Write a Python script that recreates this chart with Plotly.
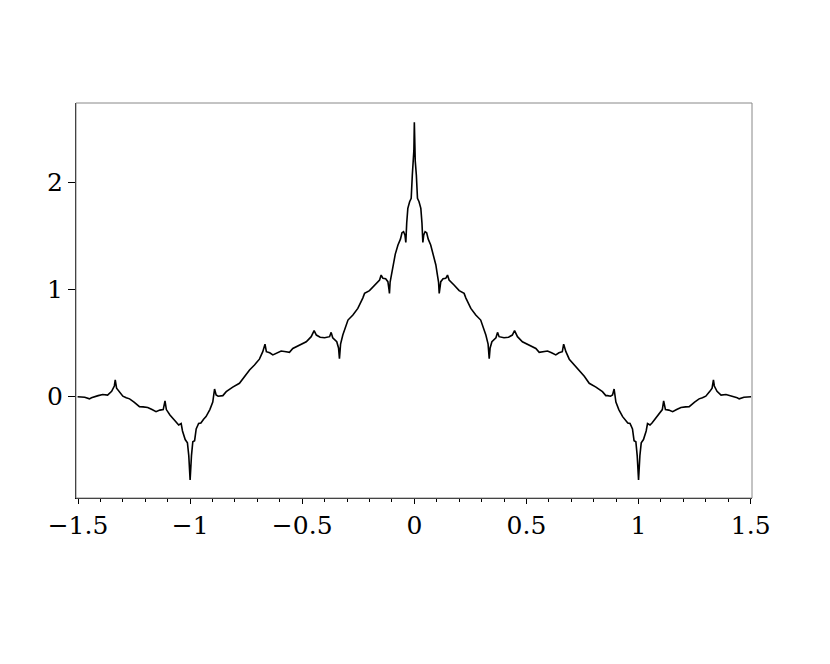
import plotly.graph_objects as go

# curve (x, y)
x_vals = [
    -1.502, -1.47, -1.449, -1.44, -1.41, -1.39, -1.368, -1.35, -1.338, -1.334,
    -1.328, -1.318, -1.30, -1.285, -1.27, -1.25, -1.226, -1.21, -1.189, -1.17,
    -1.152, -1.135, -1.12, -1.112, -1.106, -1.09, -1.078, -1.06, -1.051, -1.04,
    -1.034, -1.022, -1.012, -1.006, -1.0, -0.994, -0.988, -0.98, -0.973, -0.962,
    -0.952, -0.94, -0.929, -0.912, -0.899, -0.891, -0.884, -0.875, -0.862, -0.854,
    -0.839, -0.81, -0.78, -0.758, -0.735, -0.713, -0.691, -0.676, -0.666, -0.660,
    -0.645, -0.631, -0.612, -0.594, -0.572, -0.557, -0.542, -0.515, -0.482, -0.46,
    -0.447, -0.437, -0.42, -0.40, -0.378, -0.371, -0.364, -0.346, -0.338, -0.334,
    -0.329, -0.319, -0.296, -0.274, -0.252, -0.23, -0.222, -0.20, -0.177, -0.155,
    -0.148, -0.14, -0.128, -0.118, -0.113, -0.111, -0.108, -0.103, -0.096, -0.085,
    -0.073, -0.062, -0.055, -0.048, -0.042, -0.038, -0.034, -0.029, -0.021, -0.014,
    -0.009, -0.004, -0.002, 0.0,
    0.002, 0.004, 0.009, 0.014, 0.021, 0.029, 0.034, 0.038, 0.042, 0.048,
    0.055, 0.062, 0.073, 0.085, 0.096, 0.103, 0.108, 0.111, 0.113, 0.118,
    0.128, 0.14, 0.148, 0.155, 0.177, 0.20, 0.222, 0.23, 0.252, 0.274,
    0.296, 0.319, 0.329, 0.334, 0.338, 0.346, 0.364, 0.371, 0.378, 0.40,
    0.42, 0.437, 0.447, 0.46, 0.482, 0.515, 0.542, 0.557, 0.572, 0.594,
    0.612, 0.631, 0.645, 0.660, 0.666, 0.676, 0.691, 0.713, 0.735, 0.758,
    0.78, 0.81, 0.839, 0.854, 0.862, 0.875, 0.884, 0.891, 0.899, 0.912,
    0.929, 0.94, 0.952, 0.962, 0.973, 0.98, 0.988, 0.994, 1.0, 1.006,
    1.012, 1.022, 1.034, 1.04, 1.051, 1.06, 1.078, 1.09, 1.106, 1.112,
    1.12, 1.135, 1.152, 1.17, 1.189, 1.21, 1.226, 1.25, 1.27, 1.285,
    1.30, 1.318, 1.328, 1.334, 1.338, 1.35, 1.368, 1.39, 1.41, 1.44,
    1.449, 1.47, 1.502,
]
y_vals = [
    0.0, -0.005, -0.02, -0.01, 0.01, 0.02, 0.015, 0.05, 0.1, 0.156,
    0.08, 0.05, 0.005, -0.01, -0.02, -0.05, -0.093, -0.095, -0.10, -0.12,
    -0.14, -0.125, -0.12, -0.04, -0.12, -0.17, -0.20, -0.245, -0.264, -0.25,
    -0.32, -0.40, -0.43, -0.55, -0.777, -0.55, -0.42, -0.41, -0.30, -0.25,
    -0.245, -0.21, -0.186, -0.12, -0.05, 0.072, 0.016, 0.005, 0.01, 0.01,
    0.047, 0.09, 0.125, 0.19, 0.25, 0.296, 0.35, 0.42, 0.49, 0.42,
    0.41, 0.39, 0.41, 0.426, 0.42, 0.414, 0.45, 0.475, 0.513, 0.56,
    0.616, 0.575, 0.555, 0.55, 0.56, 0.6, 0.55, 0.513, 0.455, 0.355,
    0.49, 0.576, 0.715, 0.762, 0.824, 0.92, 0.964, 0.99, 1.042, 1.089,
    1.135, 1.104, 1.10, 1.073, 1.0, 0.964, 1.07, 1.135, 1.229, 1.33,
    1.415, 1.47, 1.53, 1.54, 1.51, 1.44, 1.62, 1.757, 1.819, 1.85,
    2.068, 2.2, 2.3, 2.56,
    2.3, 2.2, 2.068, 1.85, 1.819, 1.757, 1.62, 1.44, 1.51, 1.54,
    1.53, 1.47, 1.415, 1.33, 1.229, 1.135, 1.07, 0.964, 1.0, 1.073,
    1.10, 1.104, 1.135, 1.089, 1.042, 0.99, 0.964, 0.92, 0.824, 0.762,
    0.715, 0.576, 0.49, 0.355, 0.455, 0.513, 0.55, 0.6, 0.56, 0.55,
    0.555, 0.575, 0.616, 0.56, 0.513, 0.475, 0.45, 0.414, 0.42, 0.426,
    0.41, 0.39, 0.41, 0.42, 0.49, 0.42, 0.35, 0.296, 0.25, 0.19,
    0.125, 0.09, 0.047, 0.01, 0.01, 0.005, 0.016, 0.072, -0.05, -0.12,
    -0.186, -0.21, -0.245, -0.25, -0.30, -0.41, -0.42, -0.55, -0.777, -0.55,
    -0.43, -0.40, -0.32, -0.25, -0.264, -0.245, -0.20, -0.17, -0.12, -0.04,
    -0.12, -0.125, -0.14, -0.12, -0.10, -0.095, -0.093, -0.05, -0.02, -0.01,
    0.005, 0.05, 0.08, 0.156, 0.1, 0.05, 0.015, 0.02, 0.01, -0.01,
    -0.02, -0.005, 0.0,
]

x_tickvals = [-1.5, -1, -0.5, 0, 0.5, 1, 1.5]
x_ticktext = ['\u22121.5', '\u22121', '\u22120.5', '0', '0.5', '1', '1.5']
y_tickvals = [0, 1, 2]
y_ticktext = ['0', '1', '2']

fig = go.Figure()

fig.add_trace(go.Scatter(
    x=x_vals,
    y=y_vals,
    mode='lines',
    line=dict(color='black', width=1.6),
    showlegend=False,
))

# frame around the plot area
fig.add_shape(
    type='rect', xref='paper', yref='paper',
    x0=0, y0=0, x1=1, y1=1,
    line=dict(color='#888888', width=1),
)

# page body adds an 8px offset, so margins are shifted accordingly
fig.update_layout(
    width=830,
    height=664,
    paper_bgcolor='white',
    plot_bgcolor='white',
    margin=dict(l=68, r=86, t=95, b=174),
    font=dict(family='DejaVu Serif', size=25, color='black'),
    xaxis=dict(
        range=[-1.509, 1.506],
        tickvals=x_tickvals,
        ticktext=x_ticktext,
        ticks='outside',
        ticklen=5,
        tickcolor='black',
        showline=True,
        linecolor='black',
        linewidth=1,
        showgrid=False,
        zeroline=False,
        minor=dict(dtick=0.1, tick0=0, ticks='outside', ticklen=3, tickcolor='black'),
    ),
    yaxis=dict(
        range=[-0.945, 2.74],
        tickvals=y_tickvals,
        ticktext=y_ticktext,
        ticks='outside',
        ticklen=7,
        tickcolor='black',
        showline=True,
        linecolor='black',
        linewidth=1,
        showgrid=False,
        zeroline=False,
    ),
)

fig.write_html("out.html")
